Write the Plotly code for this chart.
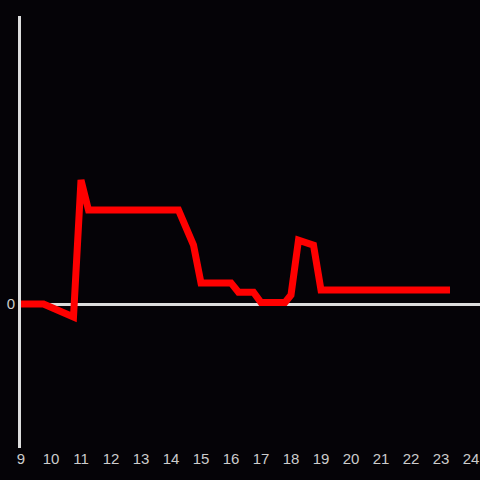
import plotly.graph_objects as go

hours = [9.0, 9.75, 10.75, 11.0, 11.25, 14.25, 14.75, 15.0, 16.0, 16.25, 16.75, 17.0,
         17.8, 18.0, 18.25, 18.75, 19.0, 23.3]
values = [0.0, 0.0, -0.42, 4.0, 3.03, 3.03, 1.9, 0.68, 0.68, 0.38, 0.38, 0.05,
          0.05, 0.29, 2.06, 1.9, 0.45, 0.45]
x_ticks = list(range(9, 25))

BG = "#050307"
AX = "#dddddd"

fig = go.Figure()
fig.add_trace(go.Scatter(x=hours, y=values, mode="lines",
                         line=dict(color="#ff0000", width=7), hoverinfo="skip"))
fig.update_layout(
    width=480, height=480,
    paper_bgcolor=BG, plot_bgcolor=BG,
    margin=dict(l=21, r=0, t=16, b=32),
    showlegend=False,
    font=dict(family="Liberation Sans, Arial, sans-serif", size=15, color="#cccccc"),
)
fig.update_xaxes(range=[9, 24.3], tickvals=x_ticks, ticktext=[str(t) for t in x_ticks],
                 showgrid=False, zeroline=False, showline=False, ticks="", fixedrange=True)
fig.update_yaxes(range=[-4.645, 9.290], tickvals=[0], ticktext=["0"],
                 showgrid=False, zeroline=True, zerolinecolor=AX, zerolinewidth=3,
                 showline=True, linecolor=AX, linewidth=3, ticks="", fixedrange=True)
fig.write_html("out.html", config={"displayModeBar": False},
               post_script="document.body.style.margin='0';document.body.style.background='%s';"
                           "document.documentElement.style.overflow='hidden';" % BG)
